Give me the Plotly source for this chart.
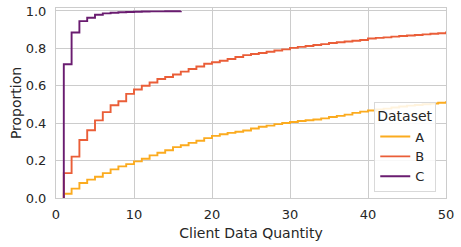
import plotly.graph_objects as go

# Step positions (client data quantity) and ECDF proportions
x_steps = list(range(1, 52))
prop_a = [0.023, 0.05, 0.08, 0.098, 0.114, 0.133, 0.153, 0.169, 0.181, 0.196,
          0.21, 0.228, 0.242, 0.255, 0.272, 0.282, 0.295, 0.306, 0.32, 0.332,
          0.341, 0.348, 0.354, 0.361, 0.372, 0.381, 0.387, 0.395, 0.401, 0.406,
          0.412, 0.416, 0.42, 0.426, 0.433, 0.439, 0.446, 0.455, 0.462, 0.468,
          0.473, 0.478, 0.484, 0.489, 0.494, 0.497, 0.501, 0.505, 0.509, 0.512,
          0.515]
prop_b = [0.133, 0.221, 0.31, 0.362, 0.415, 0.459, 0.496, 0.517, 0.557, 0.58,
          0.60, 0.618, 0.636, 0.647, 0.66, 0.676, 0.69, 0.703, 0.718, 0.726,
          0.734, 0.743, 0.754, 0.764, 0.77, 0.775, 0.782, 0.789, 0.795, 0.803,
          0.808, 0.813, 0.818, 0.823, 0.829, 0.833, 0.837, 0.841, 0.845, 0.853,
          0.856, 0.859, 0.863, 0.866, 0.869, 0.872, 0.875, 0.878, 0.881, 0.885,
          0.887]
x_steps_c = list(range(1, 17))
prop_c = [0.715, 0.885, 0.946, 0.964, 0.98, 0.987, 0.991, 0.993, 0.995, 0.996,
          0.997, 0.998, 0.998, 0.999, 0.999, 1.0]

datasets = ["A", "B", "C"]
colors = {"A": "#fbab1f", "B": "#ea5e38", "C": "#6a1c70"}
series = {"A": (x_steps, prop_a), "B": (x_steps, prop_b), "C": (x_steps_c, prop_c)}

x_ticks = [0, 10, 20, 30, 40, 50]
y_ticks = [0.0, 0.2, 0.4, 0.6, 0.8, 1.0]

fig = go.Figure()
for name in datasets:
    xs, ys = series[name]
    # ECDF starts at zero proportion at the first step
    fig.add_trace(go.Scatter(
        x=[xs[0]] + xs, y=[0.0] + ys, mode="lines", name=name,
        line=dict(color=colors[name], width=1.9, shape="hv"),
    ))

font_family = "DejaVu Sans"
text_color = "#262626"
grid_color = "#cccccc"

fig.update_layout(
    width=461, height=247,
    margin=dict(l=56, r=15, t=8, b=49, autoexpand=False),
    paper_bgcolor="white", plot_bgcolor="white",
    font=dict(family=font_family, size=13, color=text_color),
    showlegend=True,
    legend=dict(
        title=dict(text="Dataset", font=dict(size=14, color=text_color)),
        font=dict(size=13, color=text_color),
        x=0.975, y=0.03, xanchor="right", yanchor="bottom",
        bgcolor="rgba(255,255,255,0.85)", bordercolor="#d9d9d9", borderwidth=1,
        itemwidth=30, tracegroupgap=0,
    ),
)
fig.update_xaxes(
    range=[0, 50], tickvals=x_ticks, ticktext=[str(v) for v in x_ticks],
    showgrid=True, gridcolor=grid_color, gridwidth=1,
    showline=True, linecolor=grid_color, linewidth=1, mirror=True,
    zeroline=False, ticks="outside", ticklen=4, tickcolor="rgba(0,0,0,0)",
    tickfont=dict(size=13, color=text_color), automargin=False,
    title=dict(text="Client Data Quantity", font=dict(size=14, color=text_color), standoff=7),
)
fig.update_yaxes(
    range=[0, 1.016], tickvals=y_ticks, ticktext=[f"{v:.1f}" for v in y_ticks],
    showgrid=True, gridcolor=grid_color, gridwidth=1,
    showline=True, linecolor=grid_color, linewidth=1, mirror=True,
    zeroline=False, ticks="outside", ticklen=6, tickcolor="rgba(0,0,0,0)",
    tickfont=dict(size=13, color=text_color), automargin=False,
    title=dict(text="Proportion", font=dict(size=14, color=text_color), standoff=0),
)

# remove the browser's default 8px body margin so the figure fills the window
fig.write_html("out.html", config={"displayModeBar": False},
               post_script="document.body.style.margin='0';")
